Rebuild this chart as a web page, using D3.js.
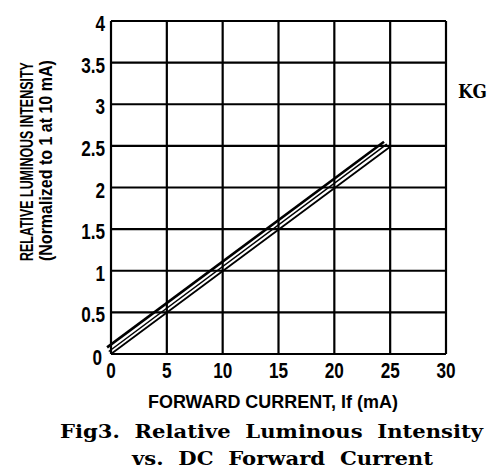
<!DOCTYPE html>
<html>
<head>
<meta charset="utf-8">
<script src="https://cdn.jsdelivr.net/npm/d3@7"></script>
<style>
	body { margin: 0; background: #fff; }
	.tick-label { font-family: "Liberation Sans", sans-serif; font-weight: bold; font-size: 22px; }
	.axis-title { font-family: "Liberation Sans", sans-serif; font-weight: bold; font-size: 18px; }
	.caption { font-family: "DejaVu Serif", serif; font-weight: bold; font-size: 19px; white-space: pre; }
</style>
</head>
<body>
<div id="chart"></div>
<script>
// tick values
const xTicks = [0, 5, 10, 15, 20, 25, 30]
const yTicks = [0, 0.5, 1, 1.5, 2, 2.5, 3, 3.5, 4]

// the three curves, [If (mA), relative intensity]
const upperLine = [[-0.35, 0.08], [24.45, 2.55]]
const middleLine = [[-0.2, 0.03], [24.7, 2.52]]
const lowerLine = [[0, 0], [25, 2.49]]

const width = 490
const height = 468

const svg = d3.select("#chart")
	.append("svg")
	.attr("width", width)
	.attr("height", height)

const x = d3.scaleLinear().domain([0, 30]).range([111, 446])
const y = d3.scaleLinear().domain([0, 4]).range([354, 21])

// grid
svg.append("g")
	.selectAll("line")
	.data(xTicks)
	.enter()
	.append("line")
	.attr("x1", d => x(d))
	.attr("x2", d => x(d))
	.attr("y1", y(0))
	.attr("y2", y(4))
	.attr("stroke", "black")
	.attr("stroke-width", 2.2)

svg.append("g")
	.selectAll("line")
	.data(yTicks)
	.enter()
	.append("line")
	.attr("x1", x(0))
	.attr("x2", x(30))
	.attr("y1", d => y(d))
	.attr("y2", d => y(d))
	.attr("stroke", "black")
	.attr("stroke-width", 2.2)

// tick labels, squeezed horizontally to look like the narrow plotter font
svg.append("g")
	.selectAll("text")
	.data(xTicks)
	.enter()
	.append("text")
	.attr("class", "tick-label")
	.attr("transform", d => `translate(${x(d)},378) scale(0.78,1)`)
	.attr("text-anchor", "middle")
	.text(d => d)

svg.append("g")
	.selectAll("text")
	.data(yTicks)
	.enter()
	.append("text")
	.attr("class", "tick-label")
	.attr("transform", d => `translate(${d === 0 ? 102 : 105},${y(d) + (d === 0 ? 11 : 10)}) scale(0.78,1)`)
	.attr("text-anchor", "end")
	.text(d => d)

// curves
const line = d3.line().x(d => x(d[0])).y(d => y(d[1]))
const curves = [
	{ data: upperLine, w: 2.6 },
	{ data: middleLine, w: 1.5 },
	{ data: lowerLine, w: 1.8 },
]
svg.append("g")
	.selectAll("path")
	.data(curves)
	.enter()
	.append("path")
	.attr("d", d => line(d.data))
	.attr("fill", "none")
	.attr("stroke", "black")
	.attr("stroke-width", d => d.w)

// squeeze a title to a given length with a transform
function squeezed(label, tx, ty, rot, len, size) {
	const t = svg.append("text")
		.attr("class", "axis-title")
		.style("font-size", size + "px")
		.text(label)
	const k = len / t.node().getComputedTextLength()
	t.attr("transform", `translate(${tx},${ty}) rotate(${rot}) scale(${k},1)`)
	return t
}

// axis titles
squeezed("FORWARD CURRENT, If (mA)", 148, 408, 0, 250, 18)
squeezed("RELATIVE LUMINOUS INTENSITY", 33, 261, -90, 199, 19)
squeezed("(Normalized to 1 at 10 mA)", 52, 261, -90, 201, 19)

// part label
svg.append("text")
	.attr("class", "caption")
	.style("font-size", "18px")
	.attr("x", 458)
	.attr("y", 98)
	.attr("textLength", 29)
	.attr("lengthAdjust", "spacingAndGlyphs")
	.text("KG")

// figure caption
svg.append("text")
	.attr("class", "caption")
	.attr("x", 60)
	.attr("y", 438)
	.attr("textLength", 423)
	.attr("lengthAdjust", "spacingAndGlyphs")
	.text("Fig3.  Relative  Luminous  Intensity")

svg.append("text")
	.attr("class", "caption")
	.attr("x", 132)
	.attr("y", 465)
	.attr("textLength", 301)
	.attr("lengthAdjust", "spacingAndGlyphs")
	.text("vs.  DC  Forward  Current")
</script>
</body>
</html>
